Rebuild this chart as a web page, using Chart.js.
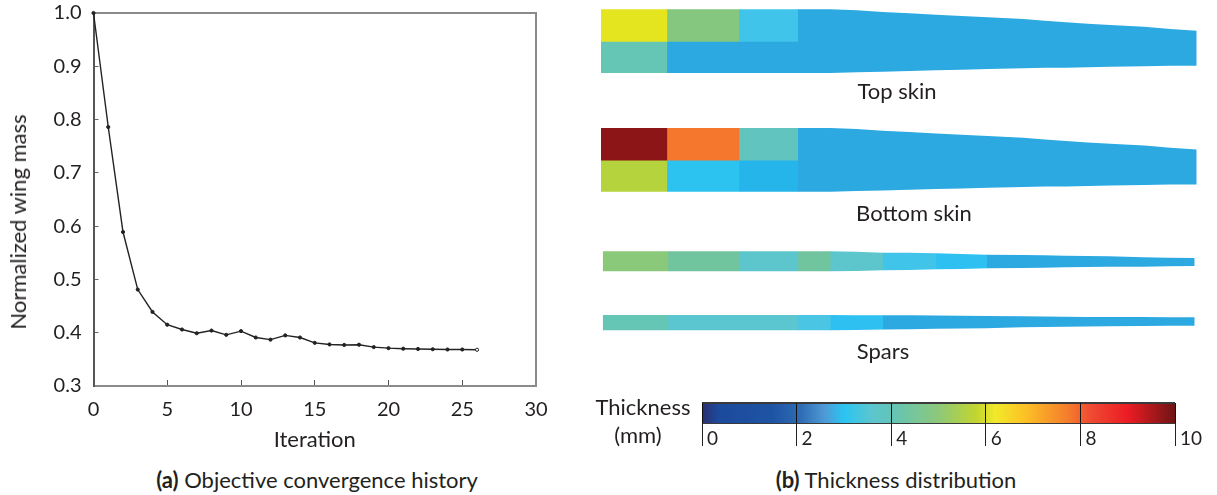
<!DOCTYPE html>
<html>
<head>
<meta charset="utf-8">
<script src="https://cdn.jsdelivr.net/npm/chart.js@4"></script>
<style>
html,body{margin:0;padding:0;background:#fff;width:1217px;height:495px;overflow:hidden}
canvas{position:absolute;display:block}
.t{position:absolute;font-family:Lato,"Open Sans",sans-serif;font-size:22px;color:#231f20;white-space:nowrap;transform:translate(-50%,-50%);line-height:1}
.r{transform:translate(-50%,-50%) rotate(-90deg)}
</style>
</head>
<body>
<canvas id="conv" width="560" height="460" style="left:0;top:0"></canvas>
<canvas id="wing" width="627" height="370" style="left:590px;top:0"></canvas>
<canvas id="bar" width="527" height="60" style="left:690px;top:395px"></canvas>
<div class="t r" style="left:18px;top:222px">Normalized wing mass</div>
<div class="t" style="left:897px;top:91px">Top skin</div>
<div class="t" style="left:914px;top:213px">Bottom skin</div>
<div class="t" style="left:883px;top:351px">Spars</div>
<div class="t" style="left:643px;top:407px">Thickness</div>
<div class="t" style="left:638px;top:435px">(mm)</div>
<div class="t" style="left:317px;top:480px"><b>(a)</b> Objective convergence history</div>
<div class="t" style="left:896px;top:480px"><b>(b)</b> Thickness distribution</div>
<script>
// ---- Convergence history
const iterations = [0,1,2,3,4,5,6,7,8,9,10,11,12,13,14,15,16,17,18,19,20,21,22,23,24,25,26];
const wingMass = [1.0,0.786,0.589,0.481,0.439,0.415,0.406,0.399,0.404,0.396,0.403,0.391,0.387,0.395,0.391,0.381,0.378,0.377,0.3775,0.373,0.371,0.370,0.3695,0.369,0.3685,0.3685,0.368];

// ---- Wing geometry: spanwise stations and edge offsets from each panel's root edge
const skinStations = [0,65.7,137.7,196.3,229.3,255.7,281.7,308.3,335,360.7,386.7,422.3,443.7,465,486.7,509.3,543.3,569.3,595.7];
const skinUpper = [0,0,0,0,0,1,2.7,4,5.4,6.7,8,9.7,11.4,13,14.4,15.7,17.4,19.7,21.4];
const skinLower = [63.7,63.7,63.7,63.7,63.7,63,62.4,61.7,61,60.4,59.7,59,58.4,58.4,58,57.4,57,56.4,56.4];
const skinSplit = [31.7,31.7,31.7,31.7];
const sparStations = [1.7,66.7,138,196.7,229,255,281.3,308,334.7,360,385.3,420.7,442,464,485,507.3,541.7,567.3,593.7];
const frontSparUpper = [0,0,0,0,0,0.4,1.4,1.4,2,2.7,3.4,3.7,4,4.4,4.7,5,6,6.4,6.7];
const frontSparLower = [20,20,20,20,20,19.7,19,18.7,18,17.7,17,16.7,16.4,16,15.7,15.5,15.4,15,14.7];
const rearSparUpper = [0,0,0,0,0,0.2,0.3,0.3,0.6,0.8,1,1.3,1.5,1.7,1.9,2,2.1,2.2,2.3];
const rearSparLower = [15.3,15.3,15.3,15.3,15.2,15,14.6,14.3,13.8,13.5,13.3,12.3,12.1,11.7,11.5,11.3,11,10.8,10.7];
const panelRoots = {topSkin:0, bottomSkin:118.7, frontSpar:242, rearSpar:305.7};

// ---- Thickness per cell (mm)
const topSkinOuter = [6.2,4.9,3.4];
const topSkinInner = [4.2,2.7,2.7];
const topSkinTip = [2.7,2.7,2.7,2.7,2.7,2.7,2.7,2.7,2.7,2.7,2.7,2.7,2.7,2.7,2.7];
const bottomSkinOuter = [9.7,7.8,4.1];
const bottomSkinInner = [5.7,3.0,2.85];
const bottomSkinTip = [2.7,2.7,2.7,2.7,2.7,2.7,2.7,2.7,2.7,2.7,2.7,2.7,2.7,2.7,2.7];
const frontSpar = [4.8,4.5,3.9,4.5,3.9,3.9,3.4,3.4,3.05,3.05,2.7,2.7,2.7,2.7,2.7,2.7,2.7,2.7];
const rearSpar = [4.2,3.85,3.85,3.55,3.05,3.05,2.7,2.7,2.7,2.7,2.7,2.7,2.7,2.7,2.7,2.7,2.7,2.7];

// ---- Colour scale
const cellMapStops = [[0,'#27306f'],[1.5,'#1e54a4'],[2.2,'#3a72b5'],[2.7,'#2ca9e1'],[2.85,'#26b5ea'],[3.0,'#2cc3f0'],[3.05,'#2fc0f2'],[3.4,'#41c4ea'],[3.55,'#4bc5e4'],[3.85,'#5cc6d0'],[4.1,'#62c4bf'],[4.2,'#66c6b5'],[4.5,'#70c49e'],[4.8,'#8bc97a'],[4.9,'#85c77f'],[5.7,'#b5d33d'],[6.2,'#e4e41f'],[7,'#fbb829'],[7.8,'#f4772d'],[8.8,'#ec1c24'],[9.7,'#8b1517'],[10,'#6e1414']];
const barStops = [[0,'#2b2f6e'],[0.35,'#1c4a9c'],[1.5,'#1e54a4'],[2.1,'#2f6db5'],[2.6,'#4f9bd6'],[3.0,'#2ac4f2'],[3.6,'#5cc6ce'],[4,'#62c4b8'],[5,'#8dc87a'],[5.8,'#c2d52f'],[6.2,'#f2e92a'],[6.8,'#fcc325'],[7.8,'#f4772d'],[8.2,'#ef4b33'],[9,'#ec1c24'],[10,'#6e1414']];
const barTicks = [0,2,4,6,8,10];

function hexRgb(h){return [1,3,5].map(i=>parseInt(h.substr(i,2),16));}
function colourFor(t){
  for(let i=1;i<cellMapStops.length;i++){
    const [a,ca]=cellMapStops[i-1],[b,cb]=cellMapStops[i];
    if(t<=b){const f=(t-a)/(b-a),A=hexRgb(ca),B=hexRgb(cb);
      return 'rgb('+A.map((v,k)=>Math.round(v+(B[k]-v)*f)).join(',')+')';}
  }
  return cellMapStops[cellMapStops.length-1][1];
}

// Cells are painted in order; each one runs a hair under its neighbour so no pale seam shows.
const SEAM = 0.7;
const wingSets=[];
function band(xs,up,lo,root,from,to,t,extraLo){
  const last=xs.length-1;
  const mk=(a,d)=>a.slice(from,to+1).map((y,i)=>({x:xs[from+i]+((from+i===to&&to<last)?SEAM:0),y:y+root+d}));
  const col=colourFor(t);
  wingSets.push({data:mk(up,0),showLine:true,pointRadius:0,borderWidth:0,backgroundColor:col,fill:'+1'});
  wingSets.push({data:mk(lo,extraLo),showLine:true,pointRadius:0,borderWidth:0,fill:false});
}
function row(xs,up,lo,root,start,cells,extraLo=0){
  let i=0;
  while(i<cells.length){
    let j=i; while(j+1<cells.length&&cells[j+1]===cells[i])j++;
    band(xs,up,lo,root,start+i,start+j+1,cells[i],extraLo);
    i=j+1;
  }
}
function skin(root,outer,inner,tip){
  const split=skinStations.map((_,i)=>skinSplit[i]??0);
  row(skinStations,skinUpper,split,root,0,outer,SEAM);
  row(skinStations,split,skinLower,root,0,inner);
  row(skinStations,skinUpper,skinLower,root,3,tip);
}
skin(panelRoots.topSkin,topSkinOuter,topSkinInner,topSkinTip);
skin(panelRoots.bottomSkin,bottomSkinOuter,bottomSkinInner,bottomSkinTip);
row(sparStations,frontSparUpper,frontSparLower,panelRoots.frontSpar,0,frontSpar);
row(sparStations,rearSparUpper,rearSparLower,panelRoots.rearSpar,0,rearSpar);

Chart.defaults.animation=false;
Chart.defaults.responsive=false;
Chart.defaults.font.family='Lato, "Open Sans", sans-serif';
Chart.defaults.color='#231f20';
const quiet={legend:{display:false},tooltip:{enabled:false},title:{display:false}};
const noPad=s=>{s.paddingTop=0;s.paddingBottom=0;s.paddingLeft=0;s.paddingRight=0;};

new Chart(document.getElementById('conv'),{
  type:'line',
  data:{labels:iterations,datasets:[{
    data:iterations.map((x,i)=>({x,y:wingMass[i]})),
    borderColor:'#222',borderWidth:1.4,tension:0,clip:false,
    pointRadius:1.6,pointBorderColor:'#222',pointBorderWidth:1,
    pointBackgroundColor:c=>c.dataIndex===iterations.length-1?'#fff':'#222'
  }]},
  options:{
    layout:{padding:{top:13,right:24,left:0,bottom:0}},
    plugins:quiet,
    scales:{
      x:{type:'linear',min:0,max:30,position:'bottom',
        afterFit:s=>{s.height=74;noPad(s);},
        border:{color:'#8a8a8a',width:2},
        grid:{drawOnChartArea:false,tickLength:-6,tickColor:'#555',tickWidth:1},
        ticks:{stepSize:5,font:{size:20},padding:18,maxRotation:0},
        title:{display:true,text:'Iteration',font:{size:22},padding:{top:0,bottom:7}}},
      y:{type:'linear',min:0.3,max:1.0,position:'left',
        afterFit:s=>{s.width=93.5;noPad(s);},
        border:{color:'#555',width:2},
        grid:{drawOnChartArea:false,tickLength:-5,tickColor:'#666',tickWidth:1},
        ticks:{stepSize:0.1,font:{size:20},padding:17,callback:v=>v.toFixed(1)}},
      xTop:{type:'linear',min:0,max:30,position:'top',afterFit:s=>{s.height=0;noPad(s);},
        border:{color:'#8a8a8a',width:2},grid:{drawOnChartArea:false,drawTicks:false},ticks:{display:false}},
      yRight:{type:'linear',min:0,max:1,position:'right',afterFit:s=>{s.width=0;noPad(s);},
        border:{color:'#8a8a8a',width:2},grid:{drawOnChartArea:false,drawTicks:false},ticks:{display:false}}
    }
  }
});

new Chart(document.getElementById('wing'),{
  type:'scatter',
  data:{datasets:wingSets},
  options:{
    layout:{padding:0},
    plugins:{...quiet,filler:{propagate:false}},
    scales:{
      x:{type:'linear',display:false,min:-11,max:616},
      y:{type:'linear',display:false,min:-9.3,max:360.7,reverse:true}
    }
  }
});

new Chart(document.getElementById('bar'),{
  type:'scatter',
  data:{datasets:[
    {data:[{x:0,y:1},{x:10,y:1}],showLine:true,pointRadius:0,borderColor:'#3a3a3a',borderWidth:2,clip:false,fill:'+1',
     backgroundColor:c=>{
       const a=c.chart.chartArea; if(!a) return '#888';
       const g=c.chart.ctx.createLinearGradient(a.left,0,a.right,0);
       barStops.forEach(([v,col])=>g.addColorStop(v/10,col));
       return g;}},
    {data:[{x:0,y:0},{x:10,y:0}],showLine:true,pointRadius:0,borderColor:'#3a3a3a',borderWidth:2,clip:false,fill:false}
  ]},
  options:{
    layout:{padding:{left:12,right:42,top:8,bottom:0}},
    plugins:quiet,
    scales:{
      x:{type:'linear',min:0,max:10,position:'bottom',
        afterFit:s=>{s.height=32;noPad(s);},
        border:{display:false},
        afterBuildTicks:s=>{s.ticks=barTicks.map(value=>({value}));},
        grid:{z:1,color:'#111',lineWidth:1,tickLength:23,tickColor:'#222'},
        ticks:{align:'start',labelOffset:5,padding:-19,font:{size:19},maxRotation:0,autoSkip:false}},
      y:{type:'linear',display:false,min:0,max:1}
    }
  }
});
</script>
</body>
</html>
